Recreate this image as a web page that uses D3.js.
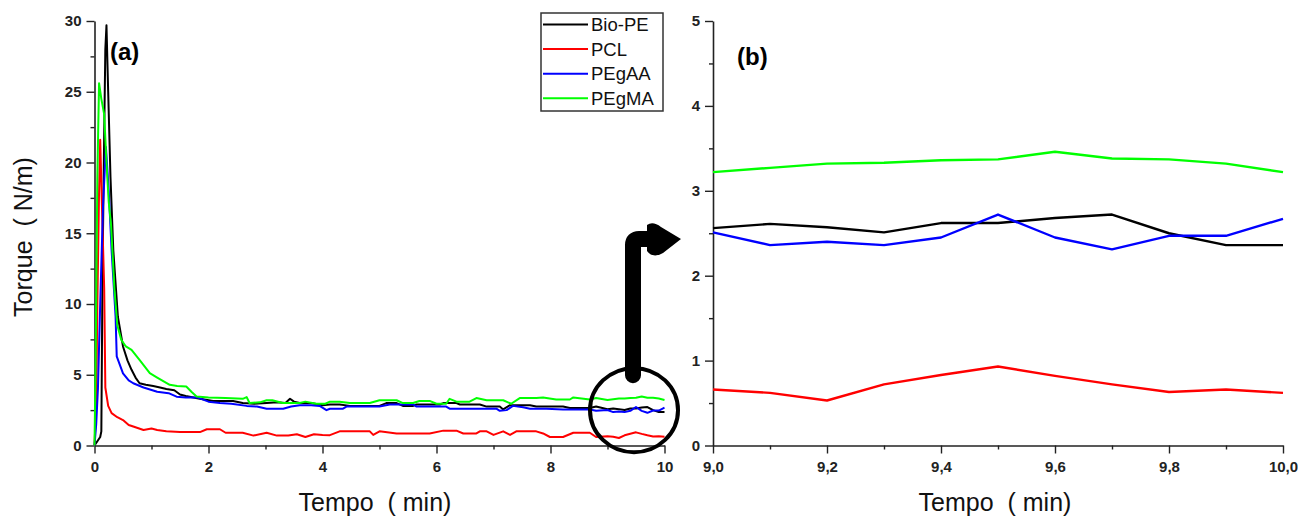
<!DOCTYPE html>
<html>
<head>
<meta charset="utf-8">
<script src="https://cdn.jsdelivr.net/npm/d3@7"></script>
<style>
  html, body { margin: 0; padding: 0; background: #fff; }
  svg { display: block; }
  text { font-family: Arial, "Liberation Sans", sans-serif; }
</style>
</head>
<body>
<svg id="chart" width="1298" height="518"></svg>
<script>
// ---------------- DATA ----------------
const seriesNames = ["Bio-PE", "PCL", "PEgAA", "PEgMA"];
const seriesColors = ["#000000", "#ff0000", "#0000ff", "#00ff00"];

// Panel (a): time (min), torque (N/m) from 0 to 8.8 min
const bioPE_a = [[0,0],[0.05,0.3],[0.1,0.6],[0.12,1.0],[0.14,12],[0.17,22],[0.19,28],[0.21,29.7],[0.24,25],[0.28,19],[0.33,13.8],[0.41,9.1],[0.5,7.0],[0.58,6.0],[0.65,5.35],[0.72,4.8],[0.79,4.4],[0.9,4.3],[1.03,4.2],[1.15,4.1],[1.26,4.0],[1.4,3.9],[1.5,3.6],[1.6,3.5],[1.85,3.3],[2.08,3.15],[2.43,3.15],[2.6,3.0],[2.8,2.95],[3.02,3.0],[3.2,3.05],[3.35,3.0],[3.43,3.3],[3.5,3.1],[3.6,3.0],[3.8,3.0],[4.0,2.85],[4.13,2.9],[4.3,2.9],[4.48,2.8],[5.0,2.8],[5.12,3.0],[5.3,3.0],[5.41,2.8],[5.59,2.8],[5.65,2.9],[6.06,2.9],[6.12,3.0],[6.35,3.0],[6.41,2.9],[6.76,2.9],[6.88,2.75],[7.11,2.75],[7.17,2.55],[7.29,2.85],[7.64,2.85],[7.75,2.75],[8.22,2.75],[8.34,2.65],[8.69,2.65],[8.8,2.75]];
const pcl_a = [[0,0],[0.03,3],[0.05,10],[0.08,18],[0.1,21.6],[0.13,17],[0.17,11.1],[0.19,4.1],[0.24,2.8],[0.3,2.29],[0.4,2.0],[0.5,1.8],[0.6,1.45],[0.68,1.34],[0.86,1.1],[1.0,1.2],[1.1,1.1],[1.26,1.0],[1.5,0.95],[1.85,0.95],[1.97,1.15],[2.2,1.15],[2.3,0.9],[2.6,0.9],[2.79,0.7],[3.02,0.9],[3.2,0.7],[3.4,0.7],[3.55,0.8],[3.7,0.6],[3.85,0.8],[4.0,0.75],[4.13,0.73],[4.3,1.0],[4.83,1.0],[4.89,0.75],[5.0,1.0],[5.3,0.85],[5.88,0.85],[6.12,1.05],[6.35,1.05],[6.47,0.85],[6.7,0.85],[6.76,1.0],[6.88,1.0],[7.0,0.75],[7.17,1.0],[7.29,0.75],[7.4,1.0],[7.75,1.0],[7.87,0.85],[7.99,0.6],[8.22,0.6],[8.4,0.9],[8.69,0.9],[8.8,0.6]];
const pegaa_a = [[0,0],[0.03,1.5],[0.06,4],[0.1,10],[0.15,17],[0.2,21.1],[0.25,18],[0.3,13.8],[0.37,9.1],[0.39,6.3],[0.5,5.1],[0.6,4.6],[0.68,4.4],[0.86,4.1],[1.1,3.8],[1.3,3.7],[1.44,3.45],[1.6,3.4],[1.8,3.4],[2.0,3.1],[2.2,3.0],[2.4,2.95],[2.67,2.8],[2.85,2.75],[3.02,2.6],[3.31,2.6],[3.45,2.75],[3.6,2.85],[3.8,2.85],[3.95,2.8],[4.07,2.5],[4.13,2.6],[4.36,2.6],[4.42,2.75],[5.0,2.75],[5.18,2.9],[5.59,2.9],[5.65,2.75],[6.17,2.75],[6.23,2.6],[7.05,2.6],[7.11,2.45],[7.23,2.5],[7.34,2.8],[7.52,2.7],[7.64,2.6],[7.93,2.6],[8.22,2.55],[8.69,2.55],[8.8,2.45]];
const pegma_a = [[0,0],[0.02,6],[0.05,19],[0.08,25.6],[0.12,24.5],[0.17,23.4],[0.21,20],[0.25,17.2],[0.29,15.6],[0.35,11],[0.4,8.5],[0.47,7.46],[0.55,7.0],[0.65,6.76],[0.8,6.0],[0.97,5.11],[1.1,4.8],[1.32,4.29],[1.45,4.2],[1.61,4.17],[1.7,3.8],[1.79,3.46],[2.0,3.4],[2.3,3.35],[2.6,3.3],[2.67,3.42],[2.72,3.0],[2.9,3.05],[3.02,3.2],[3.12,3.2],[3.3,3.0],[3.6,3.0],[3.7,3.1],[3.89,2.95],[4.05,2.95],[4.13,3.1],[4.3,3.1],[4.48,3.0],[4.83,3.0],[5.0,3.2],[5.3,3.2],[5.41,3.0],[5.59,3.0],[5.7,3.15],[5.88,3.15],[6.0,2.95],[6.17,2.95],[6.23,3.3],[6.35,3.1],[6.58,3.1],[6.7,3.35],[6.88,3.2],[7.17,3.2],[7.31,2.95],[7.46,3.35],[7.75,3.35],[7.87,3.4],[8.1,3.25],[8.34,3.25],[8.4,3.4],[8.69,3.25],[8.8,3.35]];

// Panel (b): 9.0 - 10.0 min (also the tail of panel (a))
const zoomTime   = [9.0, 9.1, 9.2, 9.3, 9.4, 9.5, 9.6, 9.7, 9.8, 9.9, 10.0];
const zoomBioPE  = [2.56, 2.61, 2.57, 2.51, 2.62, 2.62, 2.68, 2.72, 2.50, 2.36, 2.36];
const zoomPCL    = [0.66, 0.62, 0.53, 0.72, 0.83, 0.93, 0.82, 0.72, 0.63, 0.66, 0.62];
const zoomPEgAA  = [2.51, 2.36, 2.40, 2.36, 2.45, 2.72, 2.45, 2.31, 2.47, 2.47, 2.67];
const zoomPEgMA  = [3.22, 3.27, 3.32, 3.33, 3.36, 3.37, 3.46, 3.38, 3.37, 3.32, 3.22];

// Tick values
const xTicksA = [0, 2, 4, 6, 8, 10];
const yTicksA = [0, 5, 10, 15, 20, 25, 30];
const xTicksB = [9.0, 9.2, 9.4, 9.6, 9.8, 10.0];
const yTicksB = [0, 1, 2, 3, 4, 5];

// ---------------- BUILD ----------------
const zoomSeries = [zoomBioPE, zoomPCL, zoomPEgAA, zoomPEgMA].map(vals => zoomTime.map((t, i) => [t, vals[i]]));
const fullSeries = [bioPE_a, pcl_a, pegaa_a, pegma_a].map((arr, i) => arr.concat(zoomSeries[i]));

const svg = d3.select("#chart");
svg.append("rect").attr("width", 1298).attr("height", 518).attr("fill", "#fff");

const xA = d3.scaleLinear().domain([0, 10]).range([94.5, 664.5]);
const yA = d3.scaleLinear().domain([0, 30]).range([445.5, 21]);
const xB = d3.scaleLinear().domain([9, 10]).range([713, 1283]);
const yB = d3.scaleLinear().domain([0, 5]).range([445.5, 21]);

const axisColor = "#222";
function styleAxis(g) {
  g.selectAll("path.domain").attr("stroke", axisColor).attr("stroke-width", 1.6);
  g.selectAll(".tick line").attr("stroke", axisColor).attr("stroke-width", 1.4);
  g.selectAll(".tick text").attr("fill", "#222").attr("font-weight", "bold")
    .attr("font-size", 15).attr("font-family", "Arial, 'Liberation Sans', sans-serif");
}

function drawAxes(x, y, xTicks, yTicks, xMinor, yMinor, xFmt, yFmt) {
  // minor ticks
  svg.append("g").attr("transform", `translate(0,${y.range()[0]})`)
    .call(d3.axisBottom(x).tickValues(xMinor).tickSize(4).tickFormat(""))
    .call(g => { g.select(".domain").remove(); g.selectAll("line").attr("stroke", axisColor).attr("stroke-width", 1.4); });
  svg.append("g").attr("transform", `translate(${x.range()[0]},0)`)
    .call(d3.axisLeft(y).tickValues(yMinor).tickSize(4).tickFormat(""))
    .call(g => { g.select(".domain").remove(); g.selectAll("line").attr("stroke", axisColor).attr("stroke-width", 1.4); });
  // major
  svg.append("g").attr("transform", `translate(0,${y.range()[0]})`)
    .call(d3.axisBottom(x).tickValues(xTicks).tickSize(8).tickSizeOuter(0).tickPadding(8).tickFormat(xFmt))
    .call(styleAxis);
  svg.append("g").attr("transform", `translate(${x.range()[0]},0)`)
    .call(d3.axisLeft(y).tickValues(yTicks).tickSize(8).tickSizeOuter(0).tickPadding(5).tickFormat(yFmt))
    .call(styleAxis);
}

const commaFmt = d => d3.format(".1f")(d).replace(".", ",");
drawAxes(xA, yA, xTicksA, yTicksA, [1,3,5,7,9], [2.5,7.5,12.5,17.5,22.5,27.5], d3.format("d"), d3.format("d"));
drawAxes(xB, yB, xTicksB, yTicksB, [9.1,9.3,9.5,9.7,9.9], [0.5,1.5,2.5,3.5,4.5], commaFmt, d3.format("d"));

// lines
const lineA = d3.line().x(d => xA(d[0])).y(d => yA(d[1]));
const lineB = d3.line().x(d => xB(d[0])).y(d => yB(d[1]));
fullSeries.forEach((s, i) => {
  svg.append("path").datum(s).attr("d", lineA).attr("fill", "none")
    .attr("stroke", seriesColors[i]).attr("stroke-width", 2).attr("stroke-linejoin", "round");
});
zoomSeries.forEach((s, i) => {
  svg.append("path").datum(s).attr("d", lineB).attr("fill", "none")
    .attr("stroke", seriesColors[i]).attr("stroke-width", 2.4).attr("stroke-linejoin", "round");
});

// axis titles
svg.append("text").attr("x", 375).attr("y", 511).attr("text-anchor", "middle")
  .attr("font-size", 25).attr("fill", "#111").style("white-space", "pre").text("Tempo  ( min)");
svg.append("text").attr("x", 995).attr("y", 511).attr("text-anchor", "middle")
  .attr("font-size", 25).attr("fill", "#111").style("white-space", "pre").text("Tempo  ( min)");
svg.append("text").attr("transform", "translate(32,237) rotate(-90)").attr("text-anchor", "middle")
  .attr("font-size", 25).attr("fill", "#111").style("white-space", "pre").text("Torque  ( N/m)");

// panel labels
svg.append("text").attr("x", 110).attr("y", 60).attr("font-size", 24).attr("font-weight", "bold")
  .attr("fill", "#000").text("(a)");
svg.append("text").attr("x", 737).attr("y", 65).attr("font-size", 24).attr("font-weight", "bold")
  .attr("fill", "#000").text("(b)");

// legend
const lg = svg.append("g");
lg.append("rect").attr("x", 541).attr("y", 13).attr("width", 122).attr("height", 98)
  .attr("fill", "#fff").attr("stroke", "#333").attr("stroke-width", 1.5);
seriesNames.forEach((n, i) => {
  const yy = 24.5 + i * 24.6;
  lg.append("line").attr("x1", 543).attr("x2", 588).attr("y1", yy).attr("y2", yy)
    .attr("stroke", seriesColors[i]).attr("stroke-width", 2);
  lg.append("text").attr("x", 591).attr("y", yy + 6.5).attr("font-size", 18.5).attr("fill", "#111").text(n);
});

// annotation: circle on panel (a) tail and arrow to panel (b)
const cx = xA(9.5), cy = yA(2.5);
svg.append("ellipse").attr("cx", cx - 2).attr("cy", cy).attr("rx", 44).attr("ry", 42)
  .attr("fill", "none").attr("stroke", "#000").attr("stroke-width", 4);
const topY = yA(14.6);
const ax = cx - 3;
svg.append("path")
  .attr("d", `M${ax},${cy - 35} L${ax},${topY + 6} Q${ax},${topY} ${ax + 6},${topY} L${ax + 20},${topY}`)
  .attr("fill", "none").attr("stroke", "#000").attr("stroke-width", 16).attr("stroke-linecap", "round");
svg.append("path")
  .attr("d", `M${ax + 14},${topY - 14} Q${ax + 20},${topY - 18} ${ax + 28},${topY - 12} L${ax + 48},${topY} L${ax + 30},${topY + 14} Q${ax + 20},${topY + 20} ${ax + 14},${topY + 12} Z`)
  .attr("fill", "#000");
</script>
</body>
</html>
